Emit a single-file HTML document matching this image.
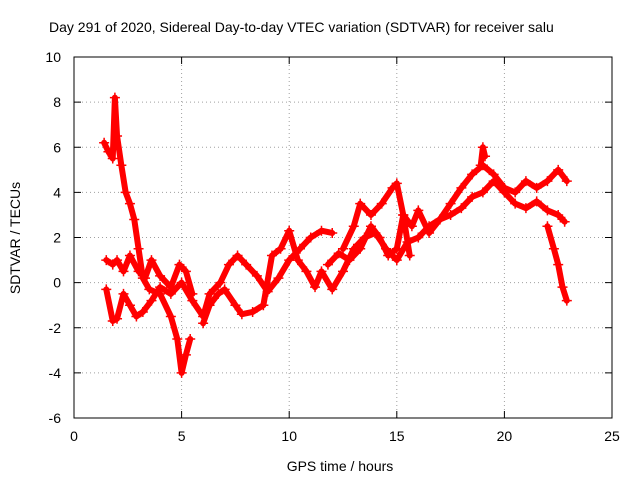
<!DOCTYPE html>
<html><head><meta charset="utf-8"><style>
body{margin:0;background:#fff}
svg text{font-family:"Liberation Sans",sans-serif;font-size:14px;fill:#000}
</style></head><body>
<svg id="chart" width="640" height="480" xmlns="http://www.w3.org/2000/svg">
<rect width="640" height="480" fill="#fff"/>
<text x="49" y="32">Day 291 of 2020, Sidereal Day-to-day VTEC variation (SDTVAR) for receiver salu</text>
<g id="grid"></g><g id="ticks"></g><g id="series"></g>
<rect x="74" y="57" width="538" height="361" fill="none" stroke="#000" stroke-width="1"/>
<text x="340" y="471" text-anchor="middle">GPS time / hours</text>
<text transform="translate(20,238) rotate(-90)" text-anchor="middle">SDTVAR / TECUs</text>
</svg>
<script>
const xTicks=[0,5,10,15,20,25];
const yTicks=[-6,-4,-2,0,2,4,6,8,10];
const trackA=[[1.4,6.2],[1.6,5.8],[1.8,5.5],[1.9,8.2],[2.0,6.5],[2.2,5.2],[2.4,4],[2.6,3.5],[2.8,2.8],[3.0,1.5],[3.2,0.2],[3.5,-0.3],[4.0,-0.5],[4.5,-1.5],[4.8,-2.5],[5.0,-4.0],[5.2,-3.2],[5.4,-2.5]];
const trackB=[[1.5,1.0],[1.8,0.8],[2.0,1.0],[2.3,0.5],[2.6,1.2],[3.0,0.5],[3.3,0.2],[3.6,1.0],[4.0,0.3],[4.5,-0.2],[4.9,0.8],[5.2,0.5],[5.5,-0.5]];
const trackC=[[1.5,-0.3],[1.8,-1.7],[2.0,-1.6],[2.3,-0.5],[2.6,-1.0],[2.9,-1.5],[3.2,-1.3],[3.6,-0.8],[4.0,-0.2],[4.5,-0.5],[5.0,0.0],[5.5,-0.8],[6.0,-1.5],[6.3,-0.5],[6.8,0.0],[7.2,0.8],[7.6,1.2],[8.0,0.8],[8.5,0.3],[9.0,-0.4],[9.5,0.2],[10,1.0],[10.5,1.5],[11,2.0],[11.5,2.3],[12,2.2]];
const trackD=[[6.0,-1.8],[6.3,-1.0],[6.7,-0.5],[7.0,-0.3],[7.5,-1.0],[7.8,-1.4],[8.3,-1.3],[8.8,-1.0],[9.2,1.2],[9.6,1.5],[10.0,2.3],[10.4,1.0],[10.8,0.5],[11.2,-0.2],[11.5,0.5],[12,-0.3],[12.5,0.5],[13,1.5],[13.5,2.0],[14,2.2],[14.5,1.5],[15,1.0],[15.5,1.8],[16,2.0],[16.5,2.5],[17,2.8],[17.5,3.0],[18,3.3],[18.5,3.8],[19,4.0],[19.5,4.5],[20,4.0],[20.5,3.5],[21,3.3],[21.5,3.6],[22,3.2],[22.5,3.0],[22.8,2.7]];
const trackE=[[11.8,0.8],[12.3,1.3],[12.8,1.0],[13.3,1.5],[13.8,2.5],[14.2,2.0],[14.6,1.2],[15.0,1.5],[15.3,3.0],[15.6,1.2]];
const trackF=[[12.5,1.5],[13,2.5],[13.3,3.5],[13.8,3.0],[14.3,3.5],[14.8,4.2],[15,4.4],[15.3,3.0],[15.7,2.5],[16,3.2],[16.5,2.2],[17,2.8],[17.5,3.5],[18,4.2],[18.5,4.8],[19,5.2],[19.5,4.8],[20,4.2],[20.5,4.0],[21,4.5],[21.5,4.2],[22,4.5],[22.5,5.0],[22.9,4.5]];
const trackG=[[22.0,2.5],[22.3,1.5],[22.5,0.8],[22.7,-0.2],[22.9,-0.8]];
const trackH=[[18.9,5.2],[19.0,6.0],[19.1,5.6]];
const tracks=[trackA,trackB,trackC,trackD,trackE,trackF,trackG,trackH];
const NS="http://www.w3.org/2000/svg";
const X=t=>74+t/25*538, Y=v=>418-(v+6)/16*361;
const grid=document.getElementById('grid'),ticks=document.getElementById('ticks'),ser=document.getElementById('series');
function mk(tag,attrs,parent){const e=document.createElementNS(NS,tag);for(const k in attrs)e.setAttribute(k,attrs[k]);parent.appendChild(e);return e;}
xTicks.forEach(t=>{const x=X(t);
 if(t>0&&t<25){const g=mk('line',{x1:x,x2:x,y1:57,y2:418,stroke:'#a0a0a0','stroke-dasharray':'1,3'},grid);
 
 }
 mk('line',{x1:x,x2:x,y1:418,y2:411,stroke:'#000'},ticks);mk('line',{x1:x,x2:x,y1:57,y2:64,stroke:'#000'},ticks);
 const l=mk('text',{x:x,y:441,'text-anchor':'middle'},ticks);l.textContent=t;
 
 });
yTicks.forEach(v=>{const y=Y(v);
 if(v>-6&&v<10){const g=mk('line',{x1:74,x2:612,y1:y,y2:y,stroke:'#a0a0a0','stroke-dasharray':'1,3'},grid);
 
 }
 mk('line',{x1:74,x2:81,y1:y,y2:y,stroke:'#000'},ticks);mk('line',{x1:612,x2:605,y1:y,y2:y,stroke:'#000'},ticks);
 const l=mk('text',{x:61,y:y+5,'text-anchor':'end'},ticks);l.textContent=v;
 
 });
tracks.forEach((tr,i)=>{
 const p=mk('polyline',{points:tr.map(d=>X(d[0])+','+Y(d[1])).join(' '),fill:'none',stroke:'#ff0000','stroke-width':6,'stroke-linejoin':'round','stroke-linecap':'round'},ser);
 
 
 tr.forEach(d=>{const x=X(d[0]),y=Y(d[1]);
  const m=mk('path',{d:`M${x-5},${y}H${x+5}M${x},${y-5}V${y+5}`,stroke:'#ff0000','stroke-width':1.5},ser);
  
  });
});
</script>
</body></html>
